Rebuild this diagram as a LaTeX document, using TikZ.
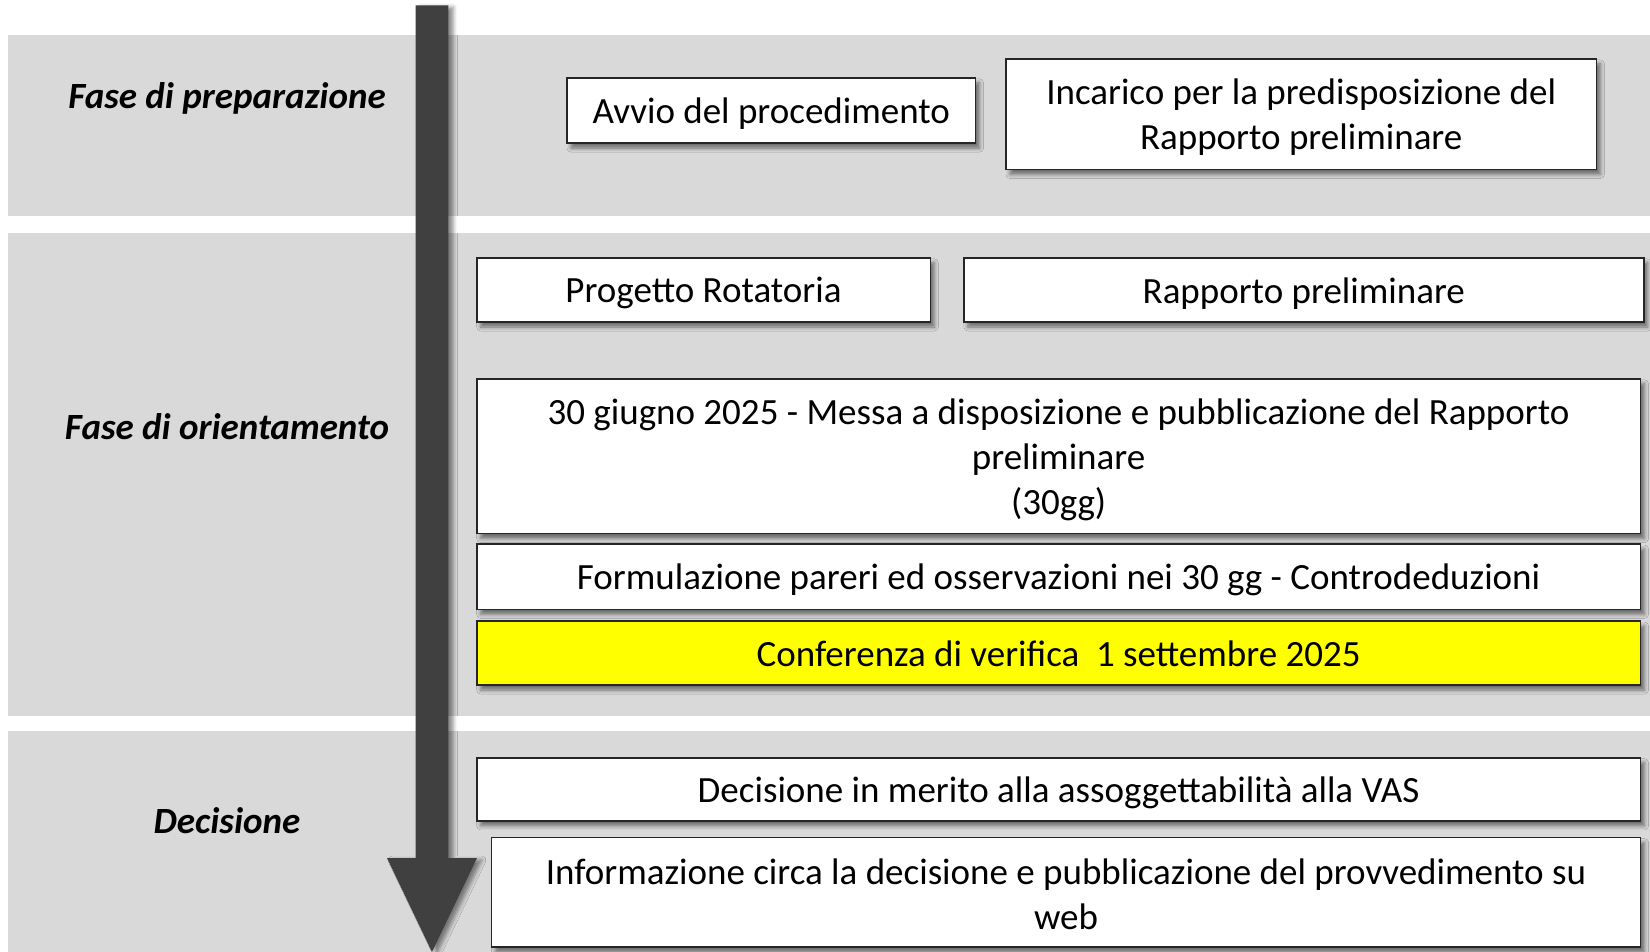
\documentclass[tikz,border=0pt]{standalone}
\usepackage{fontspec}
\setmainfont{Carlito}
\usetikzlibrary{shadows.blur}
\definecolor{bandc}{HTML}{D9D9D9}
\definecolor{arrowc}{HTML}{404040}
\definecolor{yel}{HTML}{FFFF00}
\begin{document}
\begin{tikzpicture}[x=0.5pt,y=-0.5pt,
  stepbox/.style={draw=black!85, line width=0.8pt, fill=white, inner sep=0pt,
    blur shadow={shadow xshift=2pt, shadow yshift=-2.5pt, shadow blur radius=2pt, shadow opacity=50}},
  boxtext/.style={align=center, inner sep=0pt, font=\fontsize{18.5}{22.5}\selectfont},
  phase/.style={font=\fontsize{18.5}{22.5}\selectfont\bfseries\itshape, inner sep=0pt}]
\useasboundingbox (0,0) rectangle (1650,952);
% bands
\fill[bandc] (8.4,34.7) rectangle (1650,215.7);
\fill[bandc] (8.4,232.6) rectangle (1650,715.6);
\fill[bandc] (8.4,731.4) rectangle (1650,952);
% phase labels
\node[phase] (p1) at (227,98.5) {Fase di preparazione};
\node[phase] (p2) at (227,427) {Fase di orientamento};
\node[phase] (p3) at (227,821) {Decisione};
% timeline arrow
\fill[arrowc, blur shadow={shadow xshift=2.5pt, shadow yshift=-1pt, shadow blur radius=2pt, shadow opacity=45}]
  (415.5,5.3) -- (448.3,5.3) -- (448.3,858) -- (477,858) -- (432,952) -- (387,858) -- (415.5,858) -- cycle;
% boxes
\node[stepbox, minimum width=204.3pt, minimum height=32.6pt] (avvio) at (771.3,110.5) {};
\node[boxtext] (avvio-t) at ([yshift=-1.7pt]avvio.center) {Avvio del procedimento};
\node[stepbox, minimum width=295.2pt, minimum height=55.3pt] (incarico) at (1301.2,114.2) {};
\node[boxtext] (incarico-t) at ([yshift=-1.7pt]incarico.center) {Incarico per la predisposizione del\\Rapporto preliminare};
\node[stepbox, minimum width=226.8pt, minimum height=32.1pt] (progetto) at (703.5,289.9) {};
\node[boxtext] (progetto-t) at ([yshift=-1.7pt]progetto.center) {Progetto Rotatoria};
\node[stepbox, minimum width=339.9pt, minimum height=32.1pt] (rapporto) at (1303.8,289.9) {};
\node[boxtext] (rapporto-t) at ([yshift=-1.7pt]rapporto.center) {Rapporto preliminare};
\node[stepbox, minimum width=581.9pt, minimum height=77.4pt] (giugno) at (1058.6,456.2) {};
\node[boxtext] (giugno-t) at ([yshift=-1.7pt]giugno.center) {30 giugno 2025 - Messa a disposizione e pubblicazione del Rapporto\\preliminare\\(30gg)};
\node[stepbox, minimum width=581.9pt, minimum height=32.7pt] (formul) at (1058.6,576.7) {};
\node[boxtext] (formul-t) at ([yshift=-1.7pt]formul.center) {Formulazione pareri ed osservazioni nei 30 gg - Controdeduzioni};
\node[stepbox, fill=yel, minimum width=581.9pt, minimum height=32pt] (conf) at (1058.6,653) {};
\node[boxtext] (conf-t) at ([yshift=-0.5pt]conf.center) {Conferenza di verifica\ \ 1 settembre 2025};
\node[stepbox, minimum width=581.9pt, minimum height=31.6pt] (decis) at (1058.6,789.3) {};
\node[boxtext] (decis-t) at ([yshift=-1.7pt]decis.center) {Decisione in merito alla assoggettabilità alla VAS};
\node[stepbox, minimum width=574.6pt, minimum height=54.8pt] (info) at (1066,892.4) {};
\node[boxtext] (info-t) at ([yshift=-0.8pt]info.center) {Informazione circa la decisione e pubblicazione del provvedimento su\\web};
\end{tikzpicture}
\end{document}
